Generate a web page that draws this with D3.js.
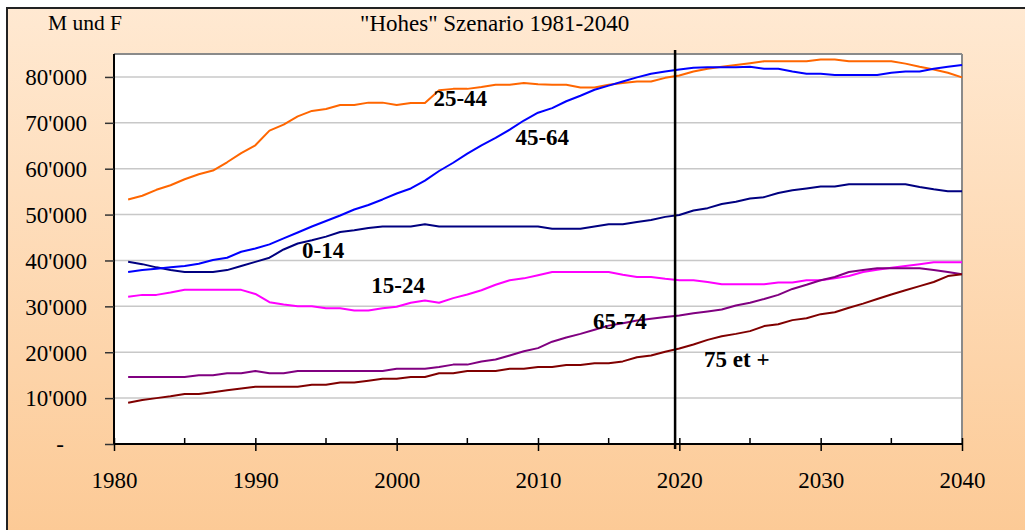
<!DOCTYPE html>
<html><head><meta charset="utf-8">
<script src="https://cdn.jsdelivr.net/npm/d3@7"></script>
<style>
html,body{margin:0;padding:0;background:#fff;}
svg{display:block;font-family:"Liberation Serif","Times New Roman",serif;}
svg text{font-family:"Liberation Serif","Times New Roman",serif;}
</style>
</head><body>
<svg id="c" width="1025" height="530"></svg>
<script>
const years = d3.range(1981, 2041);
const s0_14 = [39.7,39.2,38.5,37.9,37.5,37.5,37.5,37.9,38.8,39.7,40.6,42.4,43.7,44.4,45.2,46.2,46.6,47.1,47.4,47.4,47.4,47.9,47.4,47.4,47.4,47.4,47.4,47.4,47.4,47.4,46.9,46.9,46.9,47.4,47.9,47.9,48.4,48.8,49.5,49.9,50.9,51.4,52.3,52.8,53.5,53.8,54.7,55.3,55.7,56.1,56.1,56.6,56.6,56.6,56.6,56.6,56.0,55.5,55.1,55.1];
const s15_24 = [32.1,32.5,32.5,33.0,33.6,33.6,33.6,33.6,33.6,32.7,30.9,30.4,30.0,30.0,29.6,29.6,29.1,29.1,29.6,29.9,30.8,31.3,30.8,31.8,32.6,33.5,34.7,35.7,36.1,36.8,37.5,37.5,37.5,37.5,37.5,36.9,36.4,36.4,36.0,35.7,35.7,35.3,34.8,34.8,34.8,34.8,35.2,35.2,35.7,35.7,36.1,36.6,37.5,38.0,38.4,38.8,39.2,39.6,39.6,39.6];
const s25_44 = [53.3,54.1,55.4,56.4,57.7,58.8,59.6,61.4,63.4,65.1,68.3,69.6,71.4,72.6,73.0,73.9,73.9,74.4,74.4,73.9,74.3,74.3,77.1,77.4,77.4,77.8,78.3,78.3,78.7,78.4,78.3,78.3,77.7,77.7,78.3,78.7,79.0,79.0,79.8,80.3,81.2,81.8,82.2,82.6,83.0,83.4,83.4,83.4,83.4,83.8,83.8,83.4,83.4,83.4,83.4,82.9,82.2,81.6,80.9,79.9];
const s45_64 = [37.5,37.9,38.2,38.5,38.8,39.3,40.1,40.6,41.9,42.6,43.5,44.8,46.1,47.4,48.6,49.8,51.1,52.1,53.3,54.6,55.7,57.4,59.5,61.3,63.3,65.1,66.7,68.5,70.5,72.2,73.2,74.7,75.9,77.2,78.1,79.0,79.9,80.7,81.2,81.6,82.0,82.1,82.1,82.1,82.2,81.8,81.8,81.2,80.7,80.7,80.4,80.4,80.4,80.4,80.9,81.2,81.2,81.8,82.2,82.6];
const s65_74 = [14.6,14.6,14.6,14.6,14.6,15.0,15.0,15.4,15.4,15.9,15.4,15.4,15.9,15.9,15.9,15.9,15.9,15.9,15.9,16.4,16.4,16.4,16.8,17.3,17.3,18.0,18.4,19.3,20.2,20.9,22.3,23.2,24.0,24.9,25.8,26.3,26.9,27.3,27.7,28.0,28.5,28.9,29.3,30.2,30.8,31.6,32.5,33.8,34.7,35.7,36.4,37.5,37.9,38.3,38.3,38.3,38.3,37.9,37.5,37.0];
const s75 = [9.0,9.6,10.0,10.4,10.9,10.9,11.3,11.7,12.1,12.5,12.5,12.5,12.5,12.9,12.9,13.4,13.4,13.8,14.2,14.2,14.6,14.6,15.4,15.4,15.9,15.9,15.9,16.4,16.4,16.8,16.8,17.2,17.2,17.6,17.6,18.0,18.9,19.3,20.1,20.8,21.7,22.7,23.5,24.0,24.6,25.7,26.1,27.0,27.4,28.3,28.7,29.7,30.6,31.6,32.6,33.5,34.4,35.3,36.6,37.0];
const seriesNames = ["0-14","15-24","25-44","45-64","65-74","75 et +"];
const seriesValues = [s0_14, s15_24, s25_44, s45_64, s65_74, s75];
const seriesColors = ["#000080","#FF00FF","#FF6600","#0000FF","#800080","#800000"];
const yTicks = [0,10000,20000,30000,40000,50000,60000,70000,80000];
const xTicksMajor = [1980,1990,2000,2010,2020,2030,2040];
const xTicksMinor = [1985,1995,2005,2015,2025,2035];
const labelYears = [1993.3,1998.2,2002.6,2008.4,2013.9,2021.75];
const labelValues = [40600,32900,73700,65200,25100,16800];
const markerYear = 2019.7;
const titleText = "\"Hohes\" Szenario 1981-2040";
const unitText = "M und F";

const FONT = "'Liberation Serif','Times New Roman',serif";
const svg = d3.select("#c");
const defs = svg.append("defs");
const g = defs.append("linearGradient").attr("id","bg").attr("x1",0).attr("y1",0).attr("x2",0).attr("y2",1);
g.append("stop").attr("offset","0%").attr("stop-color","#FFE9D2");
g.append("stop").attr("offset","100%").attr("stop-color","#FCC994");
svg.append("rect").attr("x",7).attr("y",8).attr("width",1040).attr("height",540)
  .attr("fill","url(#bg)").attr("stroke","#222").attr("stroke-width",2);

const m = {left:114, top:54, right:962, bottom:444};
const x = d3.scaleLinear().domain([1980,2040]).range([m.left,m.right]);
const y = d3.scaleLinear().domain([0,85000]).range([m.bottom,m.top]);

svg.append("rect").attr("x",m.left).attr("y",m.top).attr("width",m.right-m.left).attr("height",m.bottom-m.top)
  .attr("fill","#fff");
// grid
svg.append("g").selectAll("line").data(yTicks.filter(d=>d>0)).join("line")
  .attr("x1",m.left).attr("x2",m.right).attr("y1",d=>y(d)).attr("y2",d=>y(d))
  .attr("stroke","#C8C8C8").attr("stroke-width",1.5);
// frame top/right grey
svg.append("line").attr("x1",m.left).attr("x2",m.right).attr("y1",m.top).attr("y2",m.top).attr("stroke","#8a8a8a").attr("stroke-width",2);
svg.append("line").attr("x1",m.right).attr("x2",m.right).attr("y1",m.top).attr("y2",m.bottom).attr("stroke","#8a8a8a").attr("stroke-width",2);

// lines
const line = d3.line().x((d,i)=>x(years[i])).y(d=>y(d*1000));
seriesValues.forEach((vals,k)=>{
  svg.append("path").datum(vals).attr("d",line).attr("fill","none")
    .attr("stroke",seriesColors[k]).attr("stroke-width",2).attr("stroke-linejoin","round");
});

// y axis
const fmt = d => d===0 ? "-" : d3.format(",")(d).replace(/,/g,"'");
const yAx = svg.append("g").attr("transform",`translate(${m.left},0)`)
  .call(d3.axisLeft(y).tickValues(yTicks).tickSize(9).tickFormat(fmt));
yAx.attr("font-family",FONT).attr("font-size",23);
yAx.select(".domain").attr("d",`M0,${m.top}V${m.bottom}`).attr("stroke","#000").attr("stroke-width",2);
yAx.selectAll(".tick line").attr("x2",-9).attr("stroke","#333").attr("stroke-width",1.5);
yAx.selectAll(".tick text").attr("x",-27).attr("dy","0.34em").attr("text-anchor","end")
  .attr("font-size",23).attr("fill","#000").style("font-family",FONT);
yAx.selectAll(".tick").filter(d=>d===0).select("text").attr("text-anchor","middle").attr("x",-54);

// x axis
const xAx = svg.append("g").attr("transform",`translate(0,${m.bottom})`)
  .call(d3.axisBottom(x).tickValues(xTicksMajor).tickSize(7).tickFormat(d3.format("d")));
xAx.attr("font-family",FONT).attr("font-size",23);
xAx.select(".domain").attr("d",`M${m.left},0H${m.right}`).attr("stroke","#000").attr("stroke-width",2);
xAx.selectAll(".tick line").attr("y1",-6).attr("y2",7).attr("stroke","#000").attr("stroke-width",1.5);
xAx.selectAll(".tick text").attr("y",44).attr("dy",null).attr("text-anchor","middle")
  .attr("font-size",23).attr("fill","#000").style("font-family",FONT);
xAx.append("g").selectAll("line").data(xTicksMinor).join("line")
  .attr("x1",d=>x(d)).attr("x2",d=>x(d)).attr("y1",-6).attr("y2",0).attr("stroke","#000").attr("stroke-width",1.5);

// marker vertical line
svg.append("line").attr("x1",x(markerYear)).attr("x2",x(markerYear)).attr("y1",m.top-4).attr("y2",m.bottom+5)
  .attr("stroke","#000").attr("stroke-width",2.5);

// labels
svg.append("g").selectAll("text").data(seriesNames).join("text")
  .attr("x",(d,i)=>x(labelYears[i])).attr("y",(d,i)=>y(labelValues[i]))
  .attr("font-size",23).attr("font-weight","bold").attr("fill","#000").style("font-family",FONT).text(d=>d);

// title & unit
svg.append("text").attr("x",360).attr("y",31).attr("font-size",23).attr("fill","#000").style("font-family",FONT).text(titleText);
svg.append("text").attr("x",48).attr("y",30).attr("font-size",21.5).attr("fill","#000").style("font-family",FONT).text(unitText);
</script>
</body></html>
